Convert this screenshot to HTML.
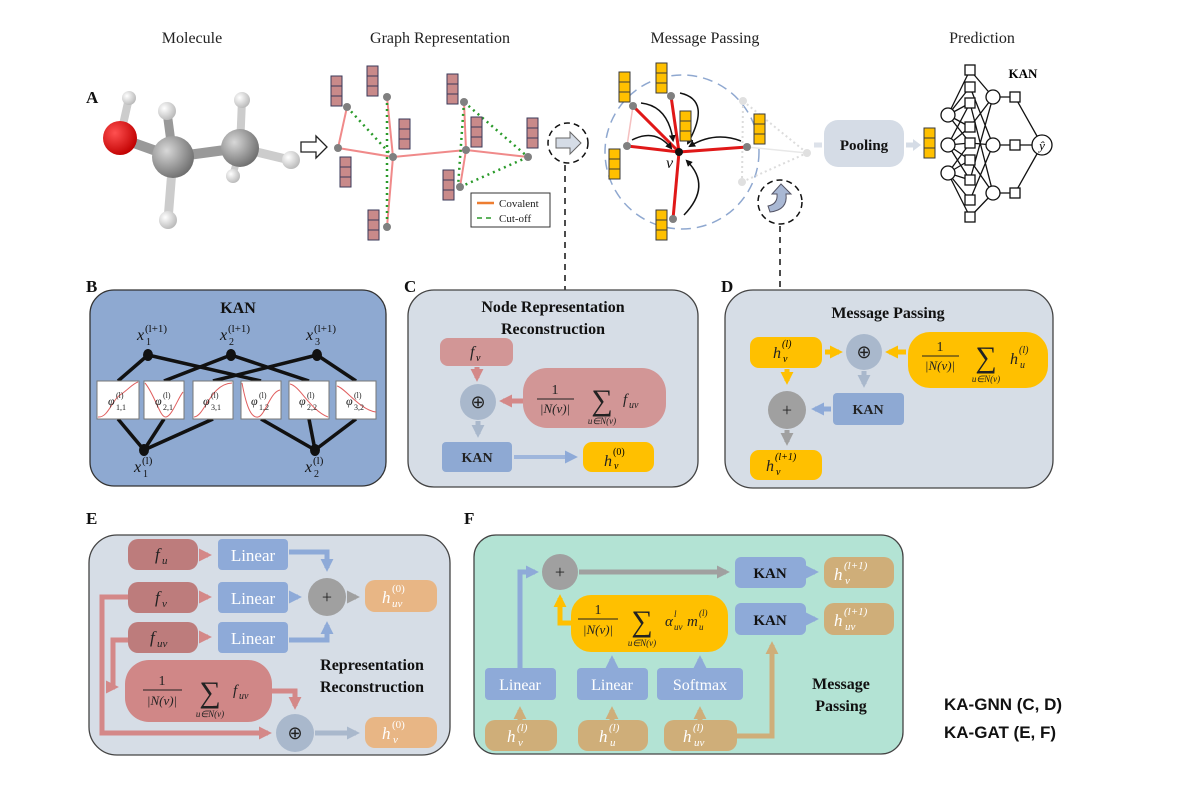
<!DOCTYPE html>
<html><head><meta charset="utf-8"><style>
html,body{margin:0;padding:0;background:#fff;}
svg{display:block;}
text{font-family:"Liberation Serif",serif;}
.t{font-size:16px;fill:#222;}
.lab{font-size:17px;font-weight:bold;fill:#111;}
.b{font-weight:bold;}
.i{font-style:italic;}
</style></head><body>
<svg width="1200" height="791" viewBox="0 0 1200 791" xmlns="http://www.w3.org/2000/svg">
<defs>
<marker id="mR" viewBox="0 0 10 10" refX="7" refY="5" markerWidth="13" markerHeight="13" markerUnits="userSpaceOnUse" orient="auto"><path d="M0,0L10,5L0,10z" fill="#d48888"/></marker>
<marker id="mB" viewBox="0 0 10 10" refX="7" refY="5" markerWidth="13" markerHeight="13" markerUnits="userSpaceOnUse" orient="auto"><path d="M0,0L10,5L0,10z" fill="#8eaad8"/></marker>
<marker id="mLB" viewBox="0 0 10 10" refX="7" refY="5" markerWidth="13" markerHeight="13" markerUnits="userSpaceOnUse" orient="auto"><path d="M0,0L10,5L0,10z" fill="#a9b8cc"/></marker>
<marker id="mG" viewBox="0 0 10 10" refX="7" refY="5" markerWidth="13" markerHeight="13" markerUnits="userSpaceOnUse" orient="auto"><path d="M0,0L10,5L0,10z" fill="#a0a0a0"/></marker>
<marker id="mY" viewBox="0 0 10 10" refX="7" refY="5" markerWidth="13" markerHeight="13" markerUnits="userSpaceOnUse" orient="auto"><path d="M0,0L10,5L0,10z" fill="#ffc000"/></marker>
<marker id="mT" viewBox="0 0 10 10" refX="7" refY="5" markerWidth="13" markerHeight="13" markerUnits="userSpaceOnUse" orient="auto"><path d="M0,0L10,5L0,10z" fill="#cfae79"/></marker>
<marker id="mK" viewBox="0 0 10 10" refX="7" refY="5" markerWidth="7" markerHeight="7" markerUnits="userSpaceOnUse" orient="auto"><path d="M0,0L10,5L0,10z" fill="#111"/></marker>
</defs>

<!-- Titles -->
<text x="192" y="43" class="t" text-anchor="middle">Molecule</text>
<text x="440" y="43" class="t" text-anchor="middle">Graph Representation</text>
<text x="705" y="43" class="t" text-anchor="middle">Message Passing</text>
<text x="982" y="43" class="t" text-anchor="middle">Prediction</text>
<text x="86" y="103" class="lab">A</text>
<text x="86" y="292" class="lab">B</text>
<text x="404" y="292" class="lab">C</text>
<text x="721" y="292" class="lab">D</text>
<text x="86" y="524" class="lab">E</text>
<text x="464" y="524" class="lab">F</text>

<!-- Molecule -->
<defs>
<radialGradient id="gC" cx="35%" cy="35%" r="70%"><stop offset="0" stop-color="#d8d8d8"/><stop offset="1" stop-color="#6e6e6e"/></radialGradient>
<radialGradient id="gO" cx="35%" cy="35%" r="70%"><stop offset="0" stop-color="#ff5050"/><stop offset="1" stop-color="#c00000"/></radialGradient>
<radialGradient id="gH" cx="35%" cy="35%" r="70%"><stop offset="0" stop-color="#ffffff"/><stop offset="1" stop-color="#b8b8b8"/></radialGradient>
</defs>
<g stroke-linecap="round">
<line x1="120" y1="138" x2="129" y2="98" stroke="#ccc" stroke-width="8"/>
<line x1="120" y1="138" x2="173" y2="157" stroke="#999" stroke-width="10"/>
<line x1="173" y1="157" x2="167" y2="112" stroke="#999" stroke-width="9"/>
<line x1="173" y1="157" x2="168" y2="220" stroke="#ccc" stroke-width="9"/>
<line x1="173" y1="157" x2="240" y2="148" stroke="#999" stroke-width="10"/>
<line x1="240" y1="148" x2="242" y2="100" stroke="#ccc" stroke-width="8"/>
<line x1="240" y1="148" x2="290" y2="160" stroke="#ccc" stroke-width="9"/>
<line x1="240" y1="148" x2="233" y2="175" stroke="#ccc" stroke-width="7"/>
</g>
<circle cx="233" cy="176" r="7" fill="url(#gH)"/>
<circle cx="129" cy="98" r="7" fill="url(#gH)"/>
<circle cx="120" cy="138" r="17" fill="url(#gO)"/>
<circle cx="167" cy="111" r="9" fill="url(#gH)"/>
<circle cx="168" cy="220" r="9" fill="url(#gH)"/>
<circle cx="173" cy="157" r="21" fill="url(#gC)"/>
<circle cx="240" cy="148" r="19" fill="url(#gC)"/>
<circle cx="242" cy="100" r="8" fill="url(#gH)"/>
<circle cx="291" cy="160" r="9" fill="url(#gH)"/>
<!-- hollow arrow -->
<path d="M301,142 L316,142 L316,136 L327,147 L316,158 L316,152 L301,152z" fill="#fff" stroke="#222" stroke-width="1.3"/>

<!-- Graph -->
<g stroke="#f08a8a" stroke-width="2">
<line x1="347" y1="107" x2="338" y2="148"/><line x1="338" y1="148" x2="393" y2="157"/>
<line x1="387" y1="97" x2="393" y2="157"/><line x1="393" y1="157" x2="387" y2="227"/>
<line x1="393" y1="157" x2="466" y2="150"/><line x1="464" y1="102" x2="466" y2="150"/>
<line x1="466" y1="150" x2="528" y2="157"/><line x1="466" y1="150" x2="460" y2="187"/>
</g>
<g stroke="#2a9a2a" stroke-width="2.5" stroke-dasharray="2,4" fill="none">
<line x1="347" y1="107" x2="393" y2="157"/><line x1="387" y1="97" x2="387" y2="227"/>
<line x1="464" y1="102" x2="528" y2="157"/><line x1="460" y1="187" x2="528" y2="157"/>
<line x1="464" y1="102" x2="458" y2="187"/>
</g>
<g fill="#808080">
<circle cx="347" cy="107" r="4"/><circle cx="387" cy="97" r="4"/><circle cx="338" cy="148" r="4"/>
<circle cx="393" cy="157" r="4"/><circle cx="387" cy="227" r="4"/><circle cx="464" cy="102" r="4"/>
<circle cx="466" cy="150" r="4"/><circle cx="528" cy="157" r="4"/><circle cx="460" cy="187" r="4"/>
</g>
<g fill="#c98a8a" stroke="#3a3a5a" stroke-width="1">
<g transform="translate(331,76)"><rect width="11" height="10"/><rect y="10" width="11" height="10"/><rect y="20" width="11" height="10"/></g>
<g transform="translate(367,66)"><rect width="11" height="10"/><rect y="10" width="11" height="10"/><rect y="20" width="11" height="10"/></g>
<g transform="translate(399,119)"><rect width="11" height="10"/><rect y="10" width="11" height="10"/><rect y="20" width="11" height="10"/></g>
<g transform="translate(340,157)"><rect width="11" height="10"/><rect y="10" width="11" height="10"/><rect y="20" width="11" height="10"/></g>
<g transform="translate(368,210)"><rect width="11" height="10"/><rect y="10" width="11" height="10"/><rect y="20" width="11" height="10"/></g>
<g transform="translate(447,74)"><rect width="11" height="10"/><rect y="10" width="11" height="10"/><rect y="20" width="11" height="10"/></g>
<g transform="translate(471,117)"><rect width="11" height="10"/><rect y="10" width="11" height="10"/><rect y="20" width="11" height="10"/></g>
<g transform="translate(527,118)"><rect width="11" height="10"/><rect y="10" width="11" height="10"/><rect y="20" width="11" height="10"/></g>
<g transform="translate(443,170)"><rect width="11" height="10"/><rect y="10" width="11" height="10"/><rect y="20" width="11" height="10"/></g>
</g>
<rect x="471" y="193" width="79" height="34" fill="#fff" stroke="#333" stroke-width="1"/>
<line x1="477" y1="203" x2="494" y2="203" stroke="#ed7d31" stroke-width="2.5"/>
<text x="499" y="207" font-size="11" fill="#222">Covalent</text>
<line x1="477" y1="218" x2="494" y2="218" stroke="#2a9a2a" stroke-width="1.5" stroke-dasharray="5,4"/>
<text x="499" y="222" font-size="11" fill="#222">Cut-off</text>
<!-- dashed circle C -->
<circle cx="568" cy="143" r="20" fill="none" stroke="#111" stroke-width="1.5" stroke-dasharray="6,4"/>
<path d="M556,138 L570,138 L570,132 L581,143 L570,154 L570,148 L556,148z" fill="#d5dce6" stroke="#666" stroke-width="1"/>
<line x1="565" y1="165" x2="565" y2="290" stroke="#111" stroke-width="1.5" stroke-dasharray="6,5"/>

<!-- Message passing -->
<circle cx="682" cy="152" r="77" fill="none" stroke="#8fa8d0" stroke-width="1.5" stroke-dasharray="10,6"/>
<g stroke="#e8e8e8" stroke-width="1.5">
<line x1="747" y1="147" x2="807" y2="153"/>
</g>
<g stroke="#dcdcdc" stroke-width="2" stroke-dasharray="2,3">
<line x1="743" y1="101" x2="807" y2="153"/><line x1="742" y1="182" x2="807" y2="153"/><line x1="743" y1="101" x2="742" y2="182"/>
<line x1="679" y1="152" x2="673" y2="219"/>
</g>
<line x1="633" y1="106" x2="627" y2="146" stroke="#f5c0c0" stroke-width="1.5"/>
<g stroke="#e01818" stroke-width="3">
<line x1="679" y1="152" x2="633" y2="106"/><line x1="679" y1="152" x2="671" y2="96"/>
<line x1="679" y1="152" x2="627" y2="146"/><line x1="679" y1="152" x2="747" y2="147"/>
<line x1="679" y1="152" x2="673" y2="219"/>
</g>
<g fill="#808080"><circle cx="633" cy="106" r="4"/><circle cx="671" cy="96" r="4"/><circle cx="627" cy="146" r="4"/><circle cx="747" cy="147" r="4"/><circle cx="673" cy="219" r="4"/></g>
<g fill="#e0e0e0"><circle cx="743" cy="101" r="4"/><circle cx="807" cy="153" r="4"/><circle cx="742" cy="182" r="4"/></g>
<circle cx="679" cy="152" r="4" fill="#111"/>
<g fill="none" stroke="#111" stroke-width="1.5" marker-end="url(#mK)">
<path d="M641,103 Q668,106 673,140"/>
<path d="M680,93 Q712,100 688,143"/>
<path d="M632,140 Q655,128 671,148"/>
<path d="M741,141 Q715,131 690,146"/>
<path d="M684,215 Q712,186 687,161"/>
</g>
<text x="666" y="168" font-size="16" class="i" fill="#111">v</text>
<g fill="#ffc000" stroke="#3a3a3a" stroke-width="1">
<g transform="translate(619,72)"><rect width="11" height="10"/><rect y="10" width="11" height="10"/><rect y="20" width="11" height="10"/></g>
<g transform="translate(656,63)"><rect width="11" height="10"/><rect y="10" width="11" height="10"/><rect y="20" width="11" height="10"/></g>
<g transform="translate(680,111)"><rect width="11" height="10"/><rect y="10" width="11" height="10"/><rect y="20" width="11" height="10"/></g>
<g transform="translate(609,149)"><rect width="11" height="10"/><rect y="10" width="11" height="10"/><rect y="20" width="11" height="10"/></g>
<g transform="translate(754,114)"><rect width="11" height="10"/><rect y="10" width="11" height="10"/><rect y="20" width="11" height="10"/></g>
<g transform="translate(656,210)"><rect width="11" height="10"/><rect y="10" width="11" height="10"/><rect y="20" width="11" height="10"/></g>
<g transform="translate(924,128)"><rect width="11" height="10"/><rect y="10" width="11" height="10"/><rect y="20" width="11" height="10"/></g>
</g>
<circle cx="780" cy="202" r="22" fill="none" stroke="#111" stroke-width="1.5" stroke-dasharray="6,4"/>
<path d="M770,212 Q788,210 786,194 L791,194 L781,184 L772,194 L777,194 Q778,204 768,206z" fill="#a9b8d4" stroke="#556" stroke-width="1"/>
<line x1="780" y1="226" x2="780" y2="290" stroke="#111" stroke-width="1.5" stroke-dasharray="6,5"/>
<!-- pooling -->
<line x1="814" y1="145" x2="822" y2="145" stroke="#dde2ea" stroke-width="5"/>
<rect x="824" y="120" width="80" height="47" rx="14" fill="#d5dce6"/>
<text x="864" y="150" font-size="15" class="b" text-anchor="middle" fill="#111">Pooling</text>
<line x1="906" y1="145" x2="914" y2="145" stroke="#d5dce6" stroke-width="5"/>
<path d="M913,139 L921,145 L913,151z" fill="#d5dce6"/>
<!-- KAN predict -->
<g stroke="#111" stroke-width="1.3" fill="none">
<path d="M948,115 L970,70 M948,115 L970,87 M948,115 L970,103 M948,115 L970,127 M948,115 L970,143"/>
<path d="M948,145 L970,103 M948,145 L970,127 M948,145 L970,143 M948,145 L970,160 M948,145 L970,180"/>
<path d="M948,173 L970,143 M948,173 L970,160 M948,173 L970,180 M948,173 L970,200 M948,173 L970,217"/>
<path d="M970,70 L993,97 M970,87 L993,145 M970,103 L993,193 M970,127 L993,97 M970,143 L993,145 M970,160 L993,193 M970,180 L993,97 M970,200 L993,145 M970,217 L993,193"/>
<path d="M993,97 L1015,97 M993,145 L1015,145 M993,193 L1015,193 M1015,97 L1042,145 M1015,145 L1042,145 M1015,193 L1042,145"/>
</g>
<g fill="#fff" stroke="#111" stroke-width="1.3">
<rect x="965" y="65" width="10" height="10"/><rect x="965" y="82" width="10" height="10"/><rect x="965" y="98" width="10" height="10"/>
<rect x="965" y="122" width="10" height="10"/><rect x="965" y="138" width="10" height="10"/><rect x="965" y="155" width="10" height="10"/>
<rect x="965" y="175" width="10" height="10"/><rect x="965" y="195" width="10" height="10"/><rect x="965" y="212" width="10" height="10"/>
<circle cx="948" cy="115" r="7"/><circle cx="948" cy="145" r="7"/><circle cx="948" cy="173" r="7"/>
<circle cx="993" cy="97" r="7"/><circle cx="993" cy="145" r="7"/><circle cx="993" cy="193" r="7"/>
<rect x="1010" y="92" width="10" height="10"/><rect x="1010" y="140" width="10" height="10"/><rect x="1010" y="188" width="10" height="10"/>
<circle cx="1042" cy="145" r="10"/>
</g>
<text x="1042" y="150" font-size="13" class="i" text-anchor="middle">ŷ</text>
<text x="1023" y="78" font-size="13" class="b" text-anchor="middle">KAN</text>

<!-- Panel B -->
<rect x="90" y="290" width="296" height="196" rx="24" fill="#8ea9d1" stroke="#333" stroke-width="1.3"/>
<text x="238" y="313" font-size="16" class="b" text-anchor="middle" fill="#111">KAN</text>
<g stroke="#111" stroke-width="3.5">
<line x1="148" y1="355" x2="118" y2="381"/><line x1="148" y1="355" x2="261" y2="381"/>
<line x1="231" y1="355" x2="164" y2="381"/><line x1="231" y1="355" x2="309" y2="381"/>
<line x1="317" y1="355" x2="213" y2="381"/><line x1="317" y1="355" x2="356" y2="381"/>
<line x1="144" y1="450" x2="118" y2="419"/><line x1="144" y1="450" x2="164" y2="419"/><line x1="144" y1="450" x2="213" y2="419"/>
<line x1="315" y1="450" x2="261" y2="419"/><line x1="315" y1="450" x2="309" y2="419"/><line x1="315" y1="450" x2="356" y2="419"/>
</g>
<g fill="#111"><ellipse cx="148" cy="355" rx="5" ry="6"/><ellipse cx="231" cy="355" rx="5" ry="6"/><ellipse cx="317" cy="355" rx="5" ry="6"/><ellipse cx="144" cy="450" rx="5" ry="6"/><ellipse cx="315" cy="450" rx="5" ry="6"/></g>
<g fill="#fff" stroke="#777" stroke-width="1">
<rect x="97" y="381" width="42" height="38"/><rect x="144" y="381" width="40" height="38"/><rect x="193" y="381" width="40" height="38"/>
<rect x="241" y="381" width="40" height="38"/><rect x="289" y="381" width="40" height="38"/><rect x="336" y="381" width="40" height="38"/>
</g>
<g fill="none" stroke="#e06060" stroke-width="1">
<path d="M98,417 C108,418 112,400 120,395 C128,390 132,384 138,382"/>
<path d="M145,383 C155,395 160,418 166,417 C172,416 178,398 183,392"/>
<path d="M194,417 C205,416 210,384 232,383"/>
<path d="M242,383 C247,410 252,418 258,417 C265,416 270,392 280,390"/>
<path d="M290,384 C300,386 310,410 328,417"/>
<path d="M337,386 C345,388 360,410 376,412"/>
</g>
<g font-size="12" class="i" fill="#222">
<text x="108" y="405">φ</text><text x="155" y="405">φ</text><text x="203" y="405">φ</text><text x="251" y="405">φ</text><text x="299" y="405">φ</text><text x="346" y="405">φ</text>
</g>
<g font-size="8" fill="#222">
<text x="116" y="398">(l)</text><text x="163" y="398">(l)</text><text x="211" y="398">(l)</text><text x="259" y="398">(l)</text><text x="307" y="398">(l)</text><text x="354" y="398">(l)</text>
<text x="116" y="410">1,1</text><text x="163" y="410">2,1</text><text x="211" y="410">3,1</text><text x="259" y="410">1,2</text><text x="307" y="410">2,2</text><text x="354" y="410">3,2</text>
</g>
<g fill="#111">
<text x="137" y="340" font-size="16" class="i">x</text><text x="145" y="332" font-size="11">(l+1)</text><text x="146" y="345" font-size="10">1</text>
<text x="220" y="340" font-size="16" class="i">x</text><text x="228" y="332" font-size="11">(l+1)</text><text x="229" y="345" font-size="10">2</text>
<text x="306" y="340" font-size="16" class="i">x</text><text x="314" y="332" font-size="11">(l+1)</text><text x="315" y="345" font-size="10">3</text>
<text x="134" y="472" font-size="16" class="i">x</text><text x="142" y="464" font-size="11">(l)</text><text x="143" y="477" font-size="10">1</text>
<text x="305" y="472" font-size="16" class="i">x</text><text x="313" y="464" font-size="11">(l)</text><text x="314" y="477" font-size="10">2</text>
</g>

<!-- Panel C -->
<rect x="408" y="290" width="290" height="197" rx="26" fill="#d6dde6" stroke="#444" stroke-width="1.3"/>
<text x="553" y="312" font-size="16" class="b" text-anchor="middle" fill="#111">Node Representation</text>
<text x="553" y="334" font-size="16" class="b" text-anchor="middle" fill="#111">Reconstruction</text>
<rect x="440" y="338" width="73" height="28" rx="8" fill="#d29696"/>
<text x="470" y="357" font-size="16" class="i" fill="#222">f</text><text x="476" y="361" font-size="10" class="i">v</text>
<line x1="477" y1="367" x2="477" y2="378" stroke="#d48888" stroke-width="5" marker-end="url(#mR)"/>
<rect x="523" y="368" width="143" height="60" rx="24" fill="#d29696"/>
<line x1="523" y1="401" x2="503" y2="401" stroke="#d48888" stroke-width="5" marker-end="url(#mR)"/>
<circle cx="478" cy="402" r="18" fill="#a9b8cc"/>
<text x="478" y="408" font-size="18" text-anchor="middle" fill="#222">⊕</text>
<line x1="478" y1="421" x2="478" y2="434" stroke="#a9b8cc" stroke-width="5" marker-end="url(#mLB)"/>
<rect x="442" y="442" width="70" height="30" rx="4" fill="#8ea9d3"/>
<text x="477" y="462" font-size="14" class="b" text-anchor="middle" fill="#222">KAN</text>
<line x1="514" y1="457" x2="574" y2="457" stroke="#9fb6dc" stroke-width="4" marker-end="url(#mB)"/>
<rect x="583" y="442" width="71" height="30" rx="9" fill="#ffc000"/>
<text x="604" y="466" font-size="16" class="i" fill="#222">h</text><text x="613" y="455" font-size="10">(0)</text><text x="614" y="469" font-size="10" class="i">v</text>
<g fill="#222">
<text x="555" y="394" font-size="14" text-anchor="middle">1</text>
<line x1="537" y1="399" x2="574" y2="399" stroke="#222" stroke-width="1"/>
<text x="555" y="413" font-size="13" text-anchor="middle" class="i">|N(v)|</text>
<text x="602" y="410" font-size="30" text-anchor="middle">∑</text>
<text x="602" y="424" font-size="9" text-anchor="middle" class="i">u∈N(v)</text>
<text x="623" y="404" font-size="15" class="i">f</text><text x="629" y="408" font-size="10" class="i">uv</text>
</g>

<!-- Panel D -->
<rect x="725" y="290" width="328" height="198" rx="28" fill="#d6dde6" stroke="#444" stroke-width="1.3"/>
<text x="888" y="318" font-size="16" class="b" text-anchor="middle" fill="#111">Message Passing</text>
<rect x="750" y="337" width="72" height="31" rx="9" fill="#ffc000"/>
<text x="773" y="358" font-size="16" class="i" fill="#222">h</text><text x="782" y="347" font-size="10" class="i">(l)</text><text x="783" y="362" font-size="10" class="i">v</text>
<line x1="825" y1="352" x2="839" y2="352" stroke="#ffc000" stroke-width="5" marker-end="url(#mY)"/>
<circle cx="864" cy="352" r="18" fill="#a9b8cc"/>
<text x="864" y="358" font-size="18" text-anchor="middle" fill="#222">⊕</text>
<line x1="906" y1="352" x2="889" y2="352" stroke="#ffc000" stroke-width="5" marker-end="url(#mY)"/>
<rect x="908" y="332" width="140" height="56" rx="22" fill="#ffc000"/>
<g fill="#222">
<text x="940" y="351" font-size="14" text-anchor="middle">1</text>
<line x1="922" y1="356" x2="959" y2="356" stroke="#222" stroke-width="1"/>
<text x="940" y="370" font-size="13" text-anchor="middle" class="i">|N(v)|</text>
<text x="986" y="367" font-size="30" text-anchor="middle">∑</text>
<text x="986" y="382" font-size="9" text-anchor="middle" class="i">u∈N(v)</text>
<text x="1010" y="364" font-size="16" class="i">h</text><text x="1019" y="353" font-size="10" class="i">(l)</text><text x="1020" y="368" font-size="10" class="i">u</text>
</g>
<line x1="864" y1="371" x2="864" y2="384" stroke="#a9b8cc" stroke-width="5" marker-end="url(#mLB)"/>
<rect x="833" y="393" width="71" height="32" rx="4" fill="#8ea9d3"/>
<text x="868" y="414" font-size="14" class="b" text-anchor="middle" fill="#222">KAN</text>
<line x1="831" y1="409" x2="815" y2="409" stroke="#8eaad8" stroke-width="5" marker-end="url(#mB)"/>
<line x1="787" y1="369" x2="787" y2="381" stroke="#ffc000" stroke-width="5" marker-end="url(#mY)"/>
<circle cx="787" cy="410" r="19" fill="#a0a0a0"/>
<text x="787" y="416" font-size="18" text-anchor="middle" fill="#222">+</text>
<line x1="787" y1="430" x2="787" y2="442" stroke="#a0a0a0" stroke-width="5" marker-end="url(#mG)"/>
<rect x="750" y="450" width="72" height="30" rx="9" fill="#ffc000"/>
<text x="766" y="471" font-size="16" class="i" fill="#222">h</text><text x="775" y="460" font-size="10" class="i">(l+1)</text><text x="776" y="475" font-size="10" class="i">v</text>

<!-- Panel E -->
<rect x="89" y="535" width="361" height="220" rx="28" fill="#d6dde6" stroke="#444" stroke-width="1.3"/>
<g fill="#bd7c7c">
<rect x="128" y="539" width="70" height="31" rx="10"/>
<rect x="128" y="582" width="70" height="31" rx="10"/>
<rect x="128" y="622" width="70" height="31" rx="10"/>
</g>
<rect x="125" y="660" width="147" height="62" rx="24" fill="#d08787"/>
<g fill="#222">
<text x="155" y="560" font-size="17" class="i">f</text><text x="162" y="564" font-size="11" class="i">u</text>
<text x="155" y="603" font-size="17" class="i">f</text><text x="162" y="607" font-size="11" class="i">v</text>
<text x="150" y="643" font-size="17" class="i">f</text><text x="157" y="647" font-size="11" class="i">uv</text>
<text x="162" y="685" font-size="14" text-anchor="middle">1</text>
<line x1="143" y1="690" x2="182" y2="690" stroke="#222" stroke-width="1"/>
<text x="162" y="705" font-size="13" text-anchor="middle" class="i">|N(v)|</text>
<text x="210" y="702" font-size="30" text-anchor="middle">∑</text>
<text x="210" y="717" font-size="9" text-anchor="middle" class="i">u∈N(v)</text>
<text x="233" y="695" font-size="15" class="i">f</text><text x="239" y="699" font-size="10" class="i">uv</text>
</g>
<g stroke="#d48888" stroke-width="5" fill="none">
<line x1="199" y1="555" x2="208" y2="555" marker-end="url(#mR)"/>
<line x1="199" y1="597" x2="208" y2="597" marker-end="url(#mR)"/>
<line x1="199" y1="637" x2="208" y2="637" marker-end="url(#mR)"/>
<path d="M128,597 L102,597 L102,733 L268,733" marker-end="url(#mR)"/>
<path d="M128,640 L113,640 L113,687 L115,687" marker-end="url(#mR)"/>
<path d="M272,691 L295,691 L295,706" marker-end="url(#mR)"/>
</g>
<g fill="#8eaad8">
<rect x="218" y="539" width="70" height="31" rx="4"/><rect x="218" y="582" width="70" height="31" rx="4"/><rect x="218" y="622" width="70" height="31" rx="4"/>
</g>
<g fill="#fff" font-size="17" text-anchor="middle"><text x="253" y="561">Linear</text><text x="253" y="604">Linear</text><text x="253" y="644">Linear</text></g>
<g stroke="#8eaad8" stroke-width="5" fill="none">
<path d="M289,552 L327,552 L327,568" marker-end="url(#mB)"/>
<path d="M289,640 L327,640 L327,625" marker-end="url(#mB)"/>
<line x1="289" y1="597" x2="298" y2="597" marker-end="url(#mB)"/>
</g>
<circle cx="327" cy="597" r="19" fill="#a0a0a0"/>
<text x="327" y="603" font-size="18" text-anchor="middle" fill="#222">+</text>
<line x1="347" y1="597" x2="356" y2="597" stroke="#a0a0a0" stroke-width="5" marker-end="url(#mG)"/>
<rect x="365" y="580" width="72" height="32" rx="10" fill="#e8b685"/>
<text x="382" y="603" font-size="17" class="i" fill="#fff">h</text><text x="392" y="592" font-size="11" fill="#fff">(0)</text><text x="392" y="607" font-size="11" class="i" fill="#fff">uv</text>
<circle cx="295" cy="733" r="19" fill="#a9b8cc"/>
<text x="295" y="739" font-size="18" text-anchor="middle" fill="#222">⊕</text>
<line x1="315" y1="733" x2="356" y2="733" stroke="#a9b8cc" stroke-width="5" marker-end="url(#mLB)"/>
<rect x="365" y="717" width="72" height="31" rx="10" fill="#e8b685"/>
<text x="382" y="739" font-size="17" class="i" fill="#fff">h</text><text x="392" y="728" font-size="11" fill="#fff">(0)</text><text x="393" y="743" font-size="11" class="i" fill="#fff">v</text>
<text x="372" y="670" font-size="16" class="b" text-anchor="middle" fill="#111">Representation</text>
<text x="372" y="692" font-size="16" class="b" text-anchor="middle" fill="#111">Reconstruction</text>

<!-- Panel F -->
<rect x="474" y="535" width="429" height="219" rx="22" fill="#b3e3d4" stroke="#444" stroke-width="1.3"/>
<g stroke="#8eaad8" stroke-width="5" fill="none">
<path d="M520,668 L520,572 L535,572" marker-end="url(#mB)"/>
<line x1="612" y1="668" x2="612" y2="659" marker-end="url(#mB)"/>
<line x1="700" y1="668" x2="700" y2="659" marker-end="url(#mB)"/>
<line x1="808" y1="572" x2="815" y2="572" marker-end="url(#mB)"/>
<line x1="808" y1="619" x2="815" y2="619" marker-end="url(#mB)"/>
</g>
<line x1="579" y1="572" x2="726" y2="572" stroke="#a0a0a0" stroke-width="5" marker-end="url(#mG)"/>
<path d="M571,623 L560,623 L560,598" stroke="#ffc000" stroke-width="5" fill="none" marker-end="url(#mY)"/>
<circle cx="560" cy="572" r="18" fill="#a0a0a0"/>
<text x="560" y="578" font-size="18" text-anchor="middle" fill="#222">+</text>
<rect x="571" y="595" width="157" height="57" rx="20" fill="#ffc000"/>
<g fill="#222">
<text x="598" y="614" font-size="14" text-anchor="middle">1</text>
<line x1="578" y1="619" x2="618" y2="619" stroke="#222" stroke-width="1"/>
<text x="598" y="634" font-size="13" text-anchor="middle" class="i">|N(v)|</text>
<text x="642" y="631" font-size="30" text-anchor="middle">∑</text>
<text x="642" y="646" font-size="9" text-anchor="middle" class="i">u∈N(v)</text>
<text x="665" y="626" font-size="15" class="i">α</text><text x="674" y="617" font-size="9" class="i">l</text><text x="674" y="630" font-size="9" class="i">uv</text>
<text x="687" y="626" font-size="15" class="i">m</text><text x="699" y="616" font-size="9" class="i">(l)</text><text x="699" y="630" font-size="9" class="i">u</text>
</g>
<g fill="#8eaad8">
<rect x="735" y="557" width="71" height="31" rx="6"/><rect x="735" y="603" width="71" height="32" rx="6"/>
<rect x="485" y="668" width="71" height="32" rx="4"/><rect x="577" y="668" width="71" height="32" rx="4"/><rect x="657" y="668" width="86" height="32" rx="4"/>
</g>
<text x="770" y="578" font-size="15" class="b" text-anchor="middle" fill="#111">KAN</text>
<text x="770" y="625" font-size="15" class="b" text-anchor="middle" fill="#111">KAN</text>
<g fill="#fff" font-size="16" text-anchor="middle"><text x="520" y="690">Linear</text><text x="612" y="690">Linear</text><text x="700" y="690">Softmax</text></g>
<g stroke="#cfae79" stroke-width="5" fill="none">
<line x1="520" y1="720" x2="520" y2="710" marker-end="url(#mT)"/>
<line x1="612" y1="720" x2="612" y2="710" marker-end="url(#mT)"/>
<line x1="700" y1="720" x2="700" y2="710" marker-end="url(#mT)"/>
<path d="M737,736 L772,736 L772,645" marker-end="url(#mT)"/>
</g>
<g fill="#cfae79">
<rect x="824" y="557" width="70" height="31" rx="10"/><rect x="824" y="603" width="70" height="32" rx="10"/>
<rect x="485" y="720" width="72" height="31" rx="10"/><rect x="578" y="720" width="70" height="31" rx="10"/><rect x="664" y="720" width="73" height="31" rx="10"/>
</g>
<g fill="#fff">
<text x="834" y="580" font-size="17" class="i">h</text><text x="844" y="569" font-size="11" class="i">(l+1)</text><text x="845" y="584" font-size="11" class="i">v</text>
<text x="834" y="626" font-size="17" class="i">h</text><text x="844" y="615" font-size="11" class="i">(l+1)</text><text x="845" y="630" font-size="11" class="i">uv</text>
<text x="507" y="742" font-size="17" class="i">h</text><text x="517" y="731" font-size="11" class="i">(l)</text><text x="518" y="746" font-size="11" class="i">v</text>
<text x="599" y="742" font-size="17" class="i">h</text><text x="609" y="731" font-size="11" class="i">(l)</text><text x="610" y="746" font-size="11" class="i">u</text>
<text x="683" y="742" font-size="17" class="i">h</text><text x="693" y="731" font-size="11" class="i">(l)</text><text x="694" y="746" font-size="11" class="i">uv</text>
</g>
<text x="841" y="689" font-size="16" class="b" text-anchor="middle" fill="#111">Message</text>
<text x="841" y="711" font-size="16" class="b" text-anchor="middle" fill="#111">Passing</text>

<text x="944" y="710" font-family="Liberation Sans, sans-serif" font-size="17" font-weight="bold" fill="#111" style="font-family:'Liberation Sans',sans-serif">KA-GNN (C, D)</text>
<text x="944" y="738" font-size="17" font-weight="bold" fill="#111" style="font-family:'Liberation Sans',sans-serif">KA-GAT (E, F)</text>
</svg>
</body></html>
